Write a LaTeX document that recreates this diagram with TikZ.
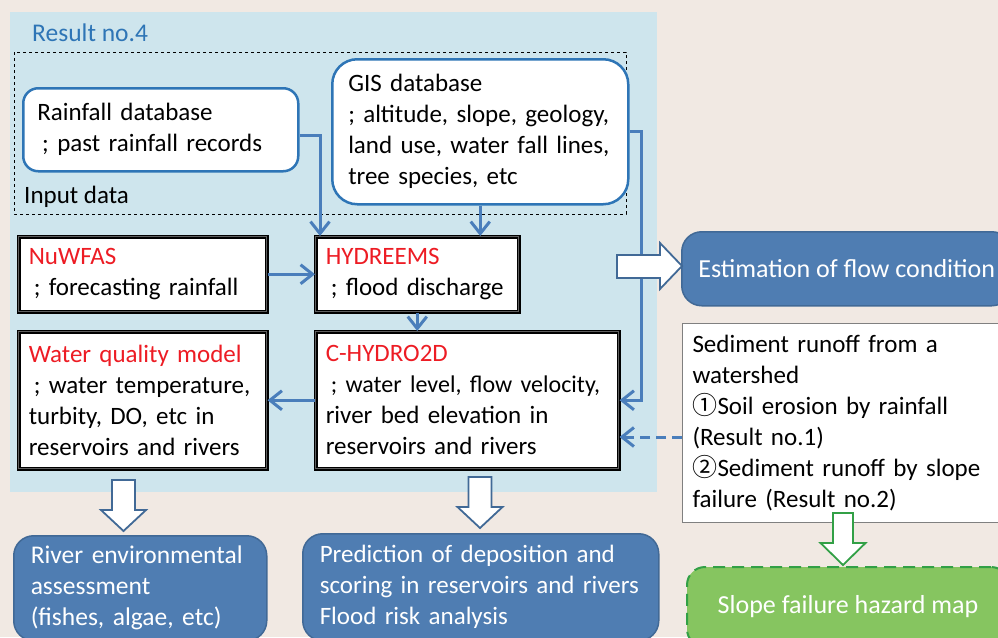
\documentclass[tikz,border=0pt]{standalone}
\usepackage{fontspec}
\setmainfont{Carlito}
\newfontfamily\cjk{Noto Sans CJK JP}
\usetikzlibrary{arrows.meta}
\hyphenpenalty=10000
\definecolor{bgbeige}{RGB}{241,233,227}
\definecolor{panelblue}{RGB}{206,229,237}
\definecolor{titleblue}{RGB}{46,117,182}
\definecolor{linkblue}{RGB}{74,126,187}
\definecolor{outblue}{RGB}{79,125,178}
\definecolor{outedge}{RGB}{65,105,150}
\definecolor{modelred}{RGB}{237,28,36}
\definecolor{modelmid}{RGB}{95,95,95}
\definecolor{mapgreen}{RGB}{134,197,96}
\definecolor{mapedge}{RGB}{50,160,70}
\begin{document}
\begin{tikzpicture}[x=1pt,y=-1pt,font=\fontsize{25}{31}\selectfont,
		flow/.style={draw=linkblue,line width=3pt,-{Straight Barb[length=12pt,width=19pt]}},
		databox/.style={draw=titleblue,line width=2.5pt,fill=white,anchor=north west,align=left},
		modelbox/.style={draw=black,line width=1.5pt,double=modelmid,double distance=1pt,fill=white,anchor=north west,align=left,inner xsep=10pt},
		outbox/.style={draw=outedge,line width=1.5pt,fill=outblue,text=white,rounded corners=20pt,anchor=north west,align=left},
		blockarrow/.style={draw=outedge,line width=1.8pt,fill=white,line join=miter}]
			\useasboundingbox (0,0) rectangle (998,637);
			\clip (0,0) rectangle (998,637);
			\fill[bgbeige] (0,0) rectangle (998,637);
			\fill[panelblue] (10,12) rectangle (657,492);
			\draw[dashed,thin] (14,52) rectangle (626,214);
			
			\node[anchor=base west,inner sep=0pt,text=titleblue,font=\fontsize{25.5}{31}\selectfont] (result4) at (32,41) {Result no.4};
			\node[anchor=base west,inner sep=0pt] (inputdata) at (24,203) {Input data};
			
			\node[databox,rounded corners=15pt,minimum width=275pt,minimum height=83pt,inner xsep=14pt,text width=247pt] (rainfall) at (22,87) {Rainfall database\\\hspace*{5pt}; past rainfall records};
			\node[databox,rounded corners=25pt,minimum width=296pt,minimum height=145pt,inner xsep=16pt,text width=264pt] (gis) at (331,58) {GIS database\\; altitude, slope, geology,\\land use, water fall lines,\\tree species, etc};
			
			\node[modelbox,minimum width=248pt,minimum height=75pt,text width=228pt] (nuwfas) at (18,236) {\textcolor{modelred}{NuWFAS}\\\hspace*{5pt}; forecasting rainfall};
			\node[modelbox,minimum width=203pt,minimum height=75pt,text width=183pt] (hydreems) at (315,236) {\textcolor{modelred}{HYDREEMS}\\\hspace*{5pt}; flood discharge};
			\node[modelbox,minimum width=248pt,minimum height=137pt,text width=228pt] (waterq) at (18,331) {\textcolor{modelred}{Water quality model}\\\hspace*{5pt}; water temperature,\\turbity, DO, etc in\\reservoirs and rivers};
			\node[modelbox,minimum width=303pt,minimum height=137pt,text width=283pt] (chydro) at (315,331) {\textcolor{modelred}{C-HYDRO2D}\\\mbox{\fontsize{24}{31}\selectfont\hspace*{5pt}; water level, flow velocity,}\\river bed elevation in\\reservoirs and rivers};
			
			\node[outbox,minimum width=330pt,minimum height=74pt,font=\fontsize{26}{31}\selectfont] (flowcond) at (681,231) {Estimation of flow condition};
			\node[draw=gray,line width=1pt,fill=white,anchor=north west,align=left,minimum width=330pt,minimum height=199pt,inner xsep=10pt,text width=310pt] (sediment) at (682,323) {Sediment runoff from a\\watershed\\{\cjk ①}Soil erosion by rainfall\\(Result no.1)\\{\cjk ②}Sediment runoff by slope\\failure (Result no.2)};
			
			\node[outbox,minimum width=253pt,minimum height=105pt,inner xsep=17pt,text width=219pt,font=\fontsize{25.5}{31}\selectfont] (riverenv) at (13,535) {River environmental\\assessment\\(fishes, algae, etc)};
			\node[outbox,minimum width=356pt,minimum height=107pt,inner xsep=17pt,text width=322pt] (prediction) at (302,533) {Prediction of deposition and\\scoring in reservoirs and rivers\\Flood risk analysis};
			\node[draw=mapedge,dash pattern=on 12pt off 7pt,line width=2pt,fill=mapgreen,text=white,rounded corners=18pt,anchor=north west,minimum width=322pt,minimum height=80pt,font=\fontsize{26}{31}\selectfont] (hazardmap) at (686,566) {Slope failure hazard map};
			
			\coordinate (rainout) at ([yshift=-6pt]rainfall.east);
			\coordinate (sedout) at ([yshift=-14pt]sediment.west);
			\coordinate (sidebar) at (641,0);
			\draw[flow] (rainout) -| ([xshift=5pt]hydreems.north west);
			\draw[flow] (gis.south) -- (gis.south |- hydreems.north);
			\draw[flow] (nuwfas.east) -- (hydreems.west);
			\draw[flow] (hydreems.south) -- (hydreems.south |- chydro.north);
			\draw[flow] (chydro.west) -- (waterq.east);
			\draw[flow] (gis.east) -| (sidebar |- chydro.east) -- (chydro.east);
			\draw[flow,dash pattern=on 10pt off 6pt] (sedout) -- (sedout -| chydro.east);
			
			\draw[blockarrow] (617,255) -- (660,255) -- (660,243) -- (682,266) -- (660,289) -- (660,278) -- (617,278) -- cycle;
			\draw[blockarrow] (112,480) -- (135,480) -- (135,510) -- (146,510) -- (123.5,531) -- (101,510) -- (112,510) -- cycle;
			\draw[blockarrow] (468.5,477) -- (491.5,477) -- (491.5,507) -- (502.5,507) -- (480,528) -- (457.5,507) -- (468.5,507) -- cycle;
			\draw[blockarrow,draw=mapedge] (833,513) -- (853,513) -- (853,543) -- (865.5,543) -- (843,565) -- (820.5,543) -- (833,543) -- cycle;
\end{tikzpicture}
\end{document}
